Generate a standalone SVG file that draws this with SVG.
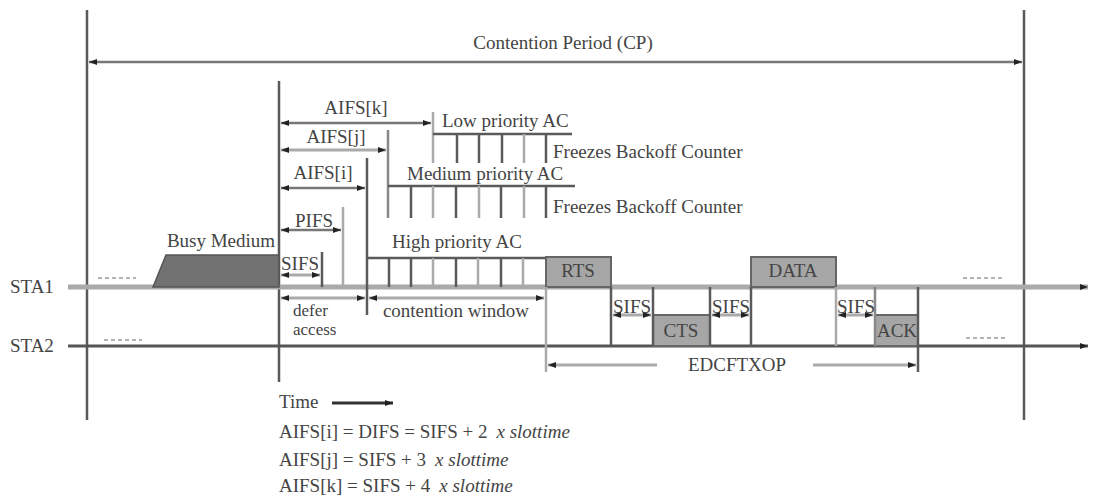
<svg xmlns="http://www.w3.org/2000/svg" width="1094" height="496" viewBox="0 0 1094 496">
<defs>
<marker id="ah" viewBox="0 0 8 6" refX="8" refY="3" markerWidth="8" markerHeight="6" markerUnits="userSpaceOnUse" orient="auto-start-reverse">
<path d="M0,0 L8,3 L0,6 z" fill="#222"/>
</marker>
<style>
text{font-family:"Liberation Serif","Times New Roman",serif;font-size:19px;fill:#444}
.c{text-anchor:middle}
.it{font-style:italic}
.sm{font-size:17px}
.dk{stroke:#5a5a5a;stroke-width:2.5;fill:none}
.lt{stroke:#aaaaaa;stroke-width:2.5;fill:none}
.md{stroke:#888;stroke-width:2.5;fill:none}
.ar{stroke:#777;stroke-width:2.5;fill:none;marker-start:url(#ah);marker-end:url(#ah)}
.arl{stroke:#aaa;stroke-width:3;fill:none;marker-start:url(#ah);marker-end:url(#ah)}
.box{fill:#a6a6a6;stroke:#666;stroke-width:2}
.dash{stroke:#999;stroke-width:1.5;stroke-dasharray:4 3}
</style>
</defs>

<g id="frame">
<line class="dk" x1="87" y1="10" x2="87" y2="420"/>
<line class="dk" x1="1024" y1="10" x2="1024" y2="420"/>
<line class="dk" x1="279" y1="81" x2="279" y2="382"/>
</g>

<g id="timelines">
<line x1="68" y1="287" x2="1088" y2="287" stroke="#aaaaaa" stroke-width="5" marker-end="url(#ah)"/>
<line x1="68" y1="346" x2="1088" y2="346" stroke="#555" stroke-width="3" marker-end="url(#ah)"/>
<line class="dash" x1="98" y1="278" x2="136" y2="278"/>
<line class="dash" x1="104" y1="340" x2="142" y2="340"/>
<line class="dash" x1="963" y1="278" x2="1002" y2="278"/>
<line class="dash" x1="966" y1="338" x2="1005" y2="338"/>
<text x="10" y="293">STA1</text>
<text x="10" y="352">STA2</text>
</g>

<g id="busy">
<polygon points="153,287 166,255 279,255 279,287" fill="#727272" stroke="#555" stroke-width="1.5"/>
<text class="c" x="221" y="247">Busy Medium</text>
</g>

<g id="low-ac">
<line class="lt" x1="433" y1="112" x2="433" y2="163"/>
<line class="dk" x1="433" y1="134" x2="572" y2="134"/>
<line class="dk" x1="457" y1="134" x2="457" y2="163"/>
<line class="dk" x1="479" y1="134" x2="479" y2="163"/>
<line class="dk" x1="502" y1="134" x2="502" y2="163"/>
<line class="lt" x1="524" y1="134" x2="524" y2="163"/>
<line class="dk" x1="546" y1="134" x2="546" y2="163"/>
<text x="442" y="127">Low priority AC</text>
<text x="553" y="158">Freezes Backoff Counter</text>
</g>

<g id="medium-ac">
<line class="md" x1="388" y1="130" x2="388" y2="218"/>
<line class="dk" x1="388" y1="186" x2="575" y2="186"/>
<line class="dk" x1="411" y1="186" x2="411" y2="218"/>
<line class="lt" x1="433" y1="186" x2="433" y2="218"/>
<line class="dk" x1="456" y1="186" x2="456" y2="218"/>
<line class="lt" x1="479" y1="186" x2="479" y2="218"/>
<line class="dk" x1="501" y1="186" x2="501" y2="218"/>
<line class="lt" x1="524" y1="186" x2="524" y2="218"/>
<line class="dk" x1="546" y1="186" x2="546" y2="218"/>
<text x="407" y="180">Medium priority AC</text>
<text x="553" y="213">Freezes Backoff Counter</text>
</g>

<g id="high-ac">
<line class="dk" x1="367" y1="158" x2="367" y2="315"/>
<line class="dk" x1="367" y1="258" x2="546" y2="258"/>
<line class="dk" x1="389" y1="258" x2="389" y2="287"/>
<line class="dk" x1="411" y1="258" x2="411" y2="287"/>
<line class="lt" x1="433" y1="258" x2="433" y2="287"/>
<line class="dk" x1="456" y1="258" x2="456" y2="287"/>
<line class="lt" x1="478" y1="258" x2="478" y2="287"/>
<line class="dk" x1="501" y1="258" x2="501" y2="287"/>
<line class="lt" x1="523" y1="258" x2="523" y2="287"/>
<text x="392" y="248">High priority AC</text>
</g>

<g id="ifs">
<line class="lt" x1="343" y1="207" x2="343" y2="287"/>
<line class="dk" x1="322" y1="252" x2="322" y2="287"/>
<text class="c" x="356" y="114">AIFS[k]</text>
<text class="c" x="336" y="143">AIFS[j]</text>
<text class="c" x="323" y="179">AIFS[i]</text>
<text class="c" x="314" y="227">PIFS</text>
<text class="c" x="300" y="270">SIFS</text>
<text class="sm" x="293" y="316">defer</text>
<text class="sm" x="293" y="335">access</text>
<text class="c" x="456" y="317">contention window</text>
</g>

<g id="exchange">
<rect class="box" x="546" y="257" width="65" height="30"/>
<text class="c" x="578" y="277">RTS</text>
<rect class="box" x="653" y="315" width="57" height="31"/>
<text class="c" x="681" y="337">CTS</text>
<rect class="box" x="751" y="257" width="85" height="30"/>
<text class="c" x="793" y="277">DATA</text>
<rect class="box" x="875" y="315" width="43" height="31"/>
<text class="c" x="897" y="337">ACK</text>
<line class="lt" x1="546" y1="287" x2="546" y2="372"/>
<line class="dk" x1="611" y1="287" x2="611" y2="346"/>
<line class="dk" x1="653" y1="287" x2="653" y2="346"/>
<line class="dk" x1="710" y1="287" x2="710" y2="346"/>
<line class="dk" x1="751" y1="287" x2="751" y2="346"/>
<line class="lt" x1="836" y1="287" x2="836" y2="346"/>
<line class="md" x1="875" y1="287" x2="875" y2="346"/>
<line class="dk" x1="918" y1="287" x2="918" y2="372"/>
<text class="c" x="632" y="313">SIFS</text>
<text class="c" x="731" y="313">SIFS</text>
<text class="c" x="856" y="313">SIFS</text>
<text class="c" x="737" y="371">EDCFTXOP</text>
</g>

<g id="legend">
<text x="279" y="408">Time</text>
<line x1="332" y1="403" x2="393" y2="403" stroke="#333" stroke-width="3" marker-end="url(#ah)"/>
<text x="279" y="438">AIFS[i] = DIFS = SIFS + 2<tspan class="it" dx="9">x slottime</tspan></text>
<text x="279" y="466">AIFS[j] = SIFS + 3<tspan class="it" dx="9">x slottime</tspan></text>
<text x="279" y="492">AIFS[k] = SIFS + 4<tspan class="it" dx="9">x slottime</tspan></text>
</g>

<g id="connectors">
<line class="ar" x1="89" y1="62" x2="1022" y2="62"/>
<text class="c" x="563" y="49">Contention Period (CP)</text>
<line class="ar" x1="281" y1="123" x2="431" y2="123"/>
<line class="arl" x1="281" y1="150" x2="386" y2="150"/>
<line class="ar" x1="281" y1="188" x2="365" y2="188"/>
<line class="ar" x1="281" y1="230" x2="341" y2="230"/>
<line class="arl" x1="281" y1="275" x2="320" y2="275"/>
<line class="arl" x1="281" y1="298" x2="365" y2="298"/>
<line class="arl" x1="369" y1="298" x2="544" y2="298"/>
<line class="arl" x1="613" y1="315" x2="651" y2="315"/>
<line class="arl" x1="712" y1="315" x2="749" y2="315"/>
<line class="arl" x1="838" y1="315" x2="873" y2="315"/>
<line x1="548" y1="365" x2="657" y2="365" stroke="#aaa" stroke-width="3" marker-start="url(#ah)"/>
<line x1="813" y1="365" x2="916" y2="365" stroke="#aaa" stroke-width="3" marker-end="url(#ah)"/>
</g>
</svg>
